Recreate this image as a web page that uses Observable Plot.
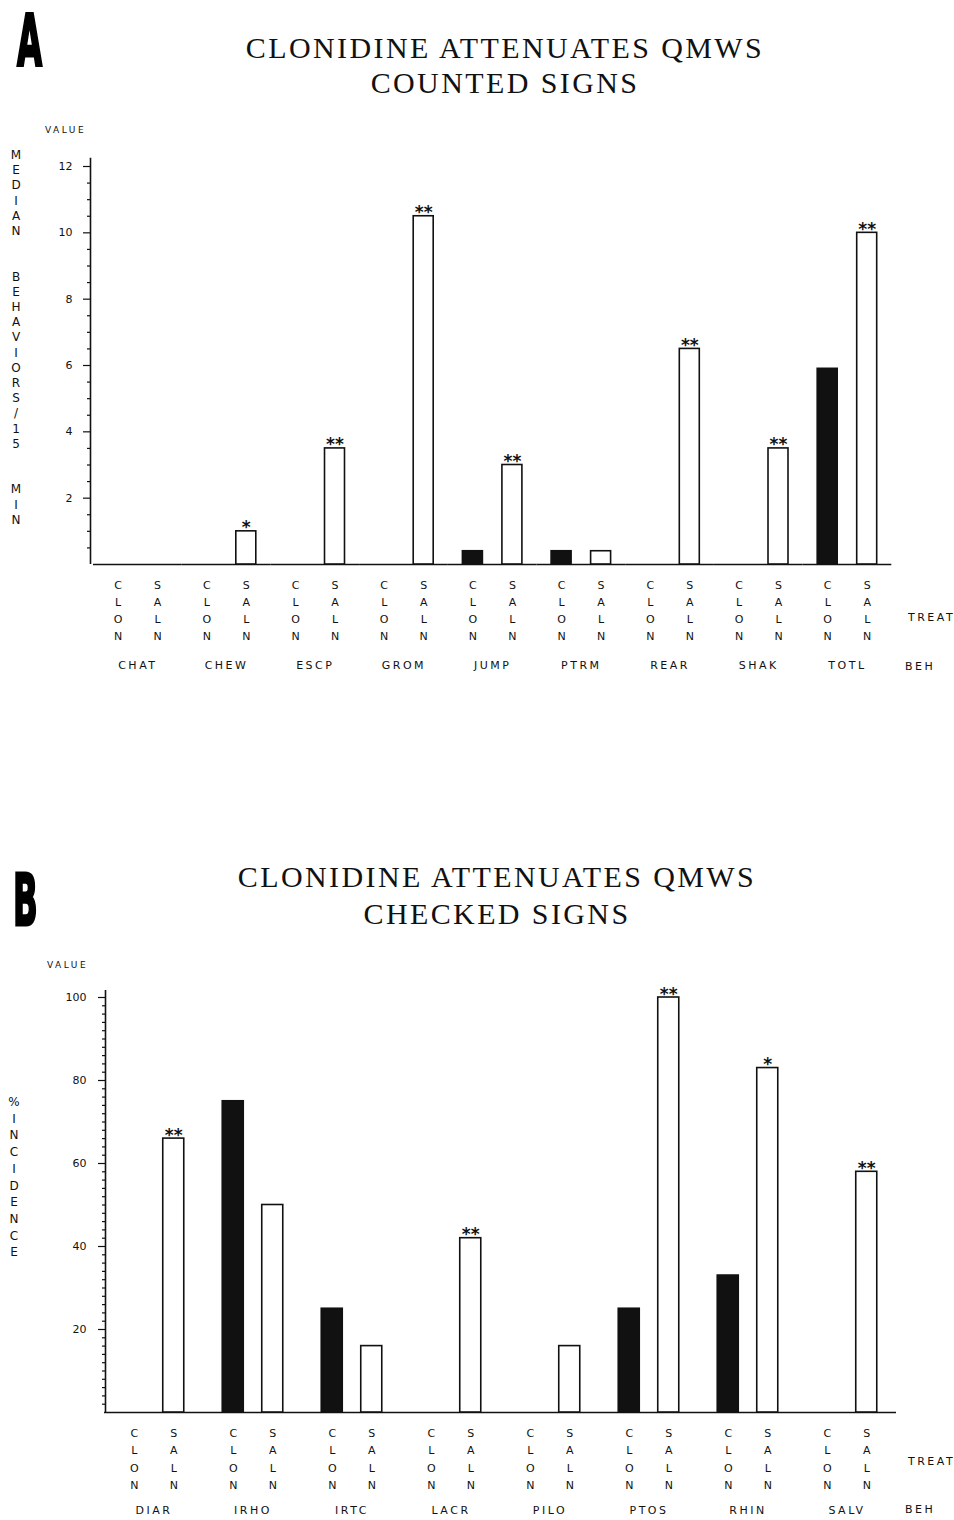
<!DOCTYPE html>
<html><head><meta charset="utf-8">
<script src="https://cdn.jsdelivr.net/npm/d3@7"></script>
<script src="https://cdn.jsdelivr.net/npm/@observablehq/plot@0.6"></script>
<style>
body{margin:0;background:#fff;width:954px;height:1520px;position:relative;overflow:hidden;font-family:"DejaVu Sans",sans-serif;color:#111;}
.title{position:absolute;left:0;width:1010px;text-align:center;font-family:"Liberation Serif","DejaVu Serif",serif;font-size:30px;line-height:36px;letter-spacing:2.4px;color:#111;white-space:nowrap;}
.letter{position:absolute;font-family:"DejaVu Sans",sans-serif;font-weight:bold;font-size:72px;line-height:72px;transform:scaleX(0.45);transform-origin:left top;color:#000;-webkit-text-stroke:3px #000;}
.small{position:absolute;font-size:9px;letter-spacing:2.5px;line-height:10px;white-space:nowrap;}
.lab{position:absolute;font-size:11px;letter-spacing:2.5px;line-height:12px;white-space:nowrap;}
.yl{position:absolute;width:20px;text-align:center;font-size:12px;line-height:14px;}
.chart{position:absolute;left:0;}
svg g[aria-label="fx-axis tick label"] text{letter-spacing:2.5px;}
</style></head><body>
<script>
// ---------- data ----------
const treats = ["CLON", "SALN"];

const behA   = ["CHAT","CHEW","ESCP","GROM","JUMP","PTRM","REAR","SHAK","TOTL"];
const clonA  = [0, 0, 0, 0, 0.4, 0.4, 0, 0, 5.9];
const salnA  = [0, 1, 3.5, 10.5, 3, 0.4, 6.5, 3.5, 10];
const sigA   = ["", "*", "**", "**", "**", "", "**", "**", "**"];
const yTicksA = [2, 4, 6, 8, 10, 12];

const behB   = ["DIAR","IRHO","IRTC","LACR","PILO","PTOS","RHIN","SALV"];
const clonB  = [0, 75, 25, 0, 0, 25, 33, 0];
const salnB  = [66, 50, 16, 42, 16, 100, 83, 58];
const sigB   = ["**", "", "", "**", "", "**", "*", "**"];
const yTicksB = [20, 40, 60, 80, 100];

const titleA = ["CLONIDINE ATTENUATES QMWS", "COUNTED SIGNS"];
const titleB = ["CLONIDINE ATTENUATES QMWS", "CHECKED SIGNS"];
const yLabelA = "MEDIAN  BEHAVIORS/15  MIN";
const yLabelB = "%INCIDENCE";

// ---------- helpers ----------
function addDiv(cls, text, left, top, extra) {
  const d = document.createElement("div");
  d.className = cls;
  d.textContent = text;
  d.style.left = left + "px";
  d.style.top = top + "px";
  if (extra) Object.assign(d.style, extra);
  document.body.appendChild(d);
  return d;
}

function stacked(str, cx, cy0, step) {
  [...str].forEach((ch, i) => {
    if (ch === " ") return;
    addDiv("yl", ch, cx - 10, cy0 + i * step - 7);
  });
}

function makePanel(cfg) {
  const {beh, clon, saln, sig, yMax, yTicks, minorStep, axisTop, height,
         marginLeft, marginRight, marginTop, marginBottom, xPadIn, xPadOut,
         axisShift, xLabelPad, fxLabelPad, lineHeight, majorTick, tickPad} = cfg;
  const data = beh.flatMap((b, i) => [
    {beh: b, treat: "CLON", value: clon[i], sig: ""},
    {beh: b, treat: "SALN", value: saln[i], sig: sig[i]}
  ]);
  const minor = d3.range(minorStep, yMax + minorStep / 2, minorStep)
    .filter(v => !yTicks.some(t => Math.abs(t - v) < 1e-9));
  const facetW = (954 - marginLeft - marginRight) / beh.length;
  const sx = facetW / (2 - xPadIn + 2 * xPadOut);
  const ruleDx = -(xPadOut * sx + sx * (1 - xPadIn) / 2) + axisShift;

  return Plot.plot({
    width: 954, height, marginLeft, marginRight, marginTop, marginBottom,
    style: {fontFamily: "DejaVu Sans, sans-serif", fontSize: "11px", color: "#111", background: "transparent", overflow: "visible"},
    fx: {domain: beh, paddingInner: 0, paddingOuter: 0, round: false, label: null},
    x: {domain: treats, paddingInner: xPadIn, paddingOuter: xPadOut, round: false, label: null},
    y: {domain: [0, yMax], label: null},
    marks: [
      Plot.ruleY([0], {stroke: "#111", strokeWidth: 1.4}),
      Plot.barY(data.filter(d => d.treat === "SALN"), {fx: "beh", x: "treat", y: "value", fill: "#fff", stroke: "#111", strokeWidth: 1.6}),
      Plot.barY(data.filter(d => d.treat === "CLON"), {fx: "beh", x: "treat", y: "value", fill: "#111", stroke: "#111", strokeWidth: 1.6}),
      Plot.text(data.filter(d => d.sig), {fx: "beh", x: "treat", y: "value", text: "sig", lineAnchor: "bottom", dy: 2, fontSize: 17, fontWeight: "bold", fill: "#111"}),
      Plot.ruleX([{beh: beh[0], treat: "CLON"}], {fx: "beh", x: "treat", y1: () => 0, y2: () => axisTop, dx: ruleDx, stroke: "#111", strokeWidth: 1.6}),
      Plot.axisY({ticks: yTicks, tickSize: majorTick, tickPadding: tickPad, dx: axisShift, label: null, fontSize: 11, strokeWidth: 1.2}),
      Plot.axisY({ticks: minor, tickSize: 3, tickFormat: () => "", dx: axisShift, label: null, strokeWidth: 1.2}),
      Plot.axisX({tickSize: 0, tickPadding: xLabelPad, tickFormat: t => t.split("").join("\n"), lineHeight, label: null, fontSize: 11}),
      Plot.axisFx({anchor: "bottom", tickSize: 0, tickPadding: fxLabelPad, label: null, fontSize: 11})
    ]
  });
}

// ---------- panel A ----------
addDiv("letter", "A", 17, 4);
addDiv("title", titleA[0], 0, 30);
addDiv("title", titleA[1], 0, 65);
addDiv("small", "VALUE", 45, 125);
stacked(yLabelA, 16, 155, 15.2);

const chartA = makePanel({
  beh: behA, clon: clonA, saln: salnA, sig: sigA, yMax: 12, yTicks: yTicksA, minorStep: 0.5,
  axisTop: 12.25, height: 530, marginLeft: 93, marginRight: 62.7, marginTop: 16, marginBottom: 116,
  xPadIn: 0.494, xPadOut: 0.3697, axisShift: -3, xLabelPad: 12, fxLabelPad: 97, lineHeight: 1.55,
  majorTick: 7, tickPad: 11
});
const wrapA = document.createElement("div");
wrapA.className = "chart"; wrapA.style.top = "150px";
wrapA.appendChild(chartA);
document.body.appendChild(wrapA);
addDiv("lab", "TREAT", 908, 612);
addDiv("lab", "BEH", 905, 661);

// ---------- panel B ----------
addDiv("letter", "B", 13, 864);
addDiv("title", titleB[0], -8, 859);
addDiv("title", titleB[1], -8, 896);
addDiv("small", "VALUE", 47, 960);
stacked(yLabelB, 14, 1102, 16.7);

const chartB = makePanel({
  beh: behB, clon: clonB, saln: salnB, sig: sigB, yMax: 100, yTicks: yTicksB, minorStep: 2,
  axisTop: 101.7, height: 535, marginLeft: 104, marginRight: 58, marginTop: 12, marginBottom: 108,
  xPadIn: 0.468, xPadOut: 0.487, axisShift: 1, xLabelPad: 12, fxLabelPad: 94, lineHeight: 1.59,
  majorTick: 7, tickPad: 12
});
const wrapB = document.createElement("div");
wrapB.className = "chart"; wrapB.style.top = "985px";
wrapB.appendChild(chartB);
document.body.appendChild(wrapB);
addDiv("lab", "TREAT", 908, 1456);
addDiv("lab", "BEH", 905, 1504);
</script>
</body></html>
